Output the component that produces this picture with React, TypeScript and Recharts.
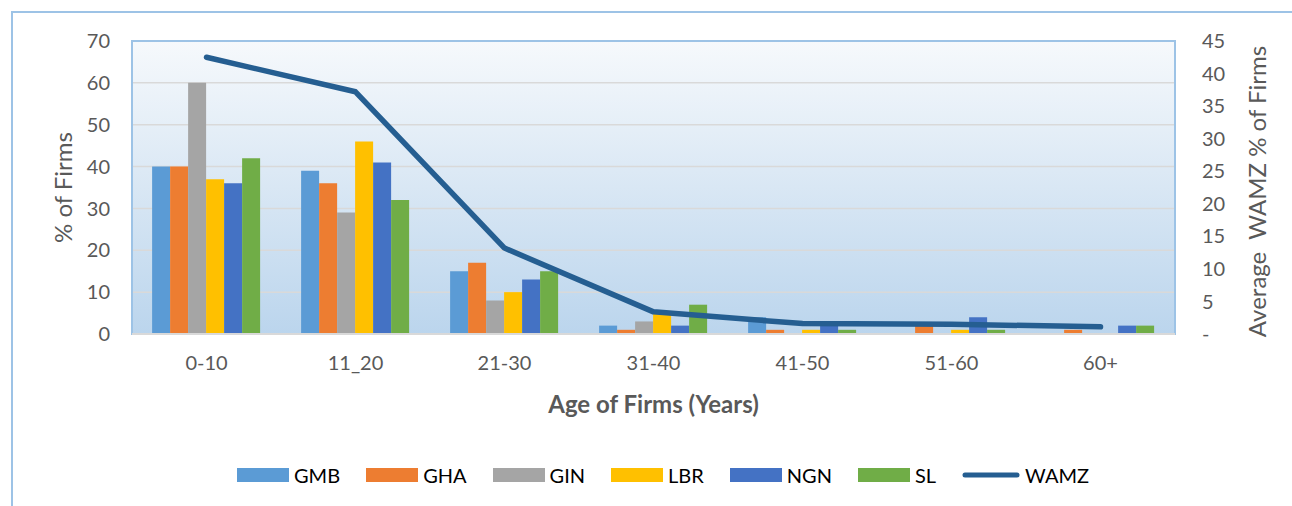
import { ComposedChart, Bar, Line, XAxis, YAxis, CartesianGrid, Legend, ReferenceArea } from 'recharts';

const ageGroups = ['0-10', '11_20', '21-30', '31-40', '41-50', '51-60', '60+'];
const gmb = [40, 39, 15, 2, 4, 0, 0];
const gha = [40, 36, 17, 1, 1, 2, 1];
const gin = [60, 29, 8, 3, 0, 0, 0];
const lbr = [37, 46, 10, 5, 1, 1, 0];
const ngn = [36, 41, 13, 2, 3, 4, 2];
const sl = [42, 32, 15, 7, 1, 1, 2];
const wamz = [42.5, 37.2, 13.2, 3.4, 1.6, 1.5, 1.1];

const seriesOrder = ['GMB', 'GHA', 'GIN', 'LBR', 'NGN', 'SL', 'WAMZ'];
const leftTicks = [0, 10, 20, 30, 40, 50, 60, 70];
const rightTicks = [0, 5, 10, 15, 20, 25, 30, 35, 40, 45];

const data = ageGroups.map((age, i) => ({
  age,
  GMB: gmb[i],
  GHA: gha[i],
  GIN: gin[i],
  LBR: lbr[i],
  NGN: ngn[i],
  SL: sl[i],
  WAMZ: wamz[i],
}));

const FONT = 'Lato, "Open Sans", sans-serif';
const tickStyle = { fill: '#595959', fontSize: 20, fontFamily: FONT };

const renderLegend = (props: any) => {
  const payload = [...(props.payload || [])].sort(
    (a: any, b: any) => seriesOrder.indexOf(a.value) - seriesOrder.indexOf(b.value)
  );
  return (
    <div style={{ display: 'flex', alignItems: 'center', paddingLeft: 237, fontFamily: FONT, fontSize: 20, color: '#000' }}>
      {payload.map((entry: any) => (
        <div key={entry.value} style={{ display: 'flex', alignItems: 'center', marginRight: 26 }}>
          {entry.type === 'line' ? (
            <svg width={58} height={14}>
              <line x1={3} y1={7} x2={55} y2={7} stroke={entry.color} strokeWidth={5} strokeLinecap="round" />
            </svg>
          ) : (
            <div style={{ width: 52, height: 14, background: entry.color }} />
          )}
          <span style={{ marginLeft: 5 }}>{entry.value}</span>
        </div>
      ))}
    </div>
  );
};

export default function App() {
  return (
    <div style={{ position: 'absolute', left: 0, top: 0, width: 1292, height: 506, overflow: 'hidden', background: '#fff' }}>
      <div
        style={{
          position: 'absolute',
          left: 11,
          top: 11,
          width: 1400,
          height: 600,
          borderLeft: '2px solid #9dc3e6',
          borderTop: '2px solid #9dc3e6',
        }}
      />
      <div style={{ position: 'absolute', left: 0, top: 0 }}>
        <ComposedChart
          width={1292}
          height={506}
          data={data}
          margin={{ top: 41, right: 0, bottom: 93, left: 0 }}
          barCategoryGap="13.5%"
          barGap={0}
          style={{ fontFamily: FONT }}
        >
          <defs>
            <linearGradient id="plotBg" x1="0" y1="0" x2="0" y2="1">
              <stop offset="0%" stopColor="#f6f9fc" />
              <stop offset="50%" stopColor="#d9e7f4" />
              <stop offset="100%" stopColor="#bbd5ed" />
            </linearGradient>
          </defs>
          <CartesianGrid yAxisId="left" vertical={false} stroke="#d9d9d9" strokeWidth={1.5} fill="url(#plotBg)" />
          <XAxis
            dataKey="age"
            height={79}
            tick={tickStyle}
            tickLine={false}
            tickSize={6}
            tickMargin={16}
            axisLine={{ stroke: '#d9d9d9', strokeWidth: 2 }}
            label={{ value: 'Age of Firms (Years)', position: 'insideBottom', offset: 0, fill: '#595959', fontSize: 24, fontWeight: 700, fontFamily: FONT }}
          />
          <YAxis
            yAxisId="left"
            width={132}
            domain={[0, 70]}
            ticks={leftTicks}
            tick={tickStyle}
            tickLine={false}
            axisLine={false}
            tickSize={6}
            tickMargin={16}
            label={{ value: '% of Firms', angle: -90, position: 'center', dx: -3, fill: '#595959', fontSize: 24, fontFamily: FONT }}
          />
          <YAxis
            yAxisId="right"
            orientation="right"
            width={117}
            domain={[0, 45]}
            ticks={rightTicks}
            tick={tickStyle}
            tickFormatter={(v: number) => (v === 0 ? '-' : String(v))}
            tickLine={false}
            axisLine={false}
            tickSize={6}
            tickMargin={21}
            label={{ value: 'Average\u00a0\u00a0WAMZ % of Firms', angle: -90, position: 'center', dx: 24, dy: 4, fill: '#595959', fontSize: 24, fontFamily: FONT }}
          />
          <Bar yAxisId="left" dataKey="GMB" fill="#5b9bd5" isAnimationActive={false} />
          <Bar yAxisId="left" dataKey="GHA" fill="#ed7d31" isAnimationActive={false} />
          <Bar yAxisId="left" dataKey="GIN" fill="#a5a5a5" isAnimationActive={false} />
          <Bar yAxisId="left" dataKey="LBR" fill="#ffc000" isAnimationActive={false} />
          <Bar yAxisId="left" dataKey="NGN" fill="#4472c4" isAnimationActive={false} />
          <Bar yAxisId="left" dataKey="SL" fill="#70ad47" isAnimationActive={false} />
          <Line
            yAxisId="right"
            type="linear"
            dataKey="WAMZ"
            stroke="#255e91"
            strokeWidth={5.5}
            strokeLinecap="round"
            strokeLinejoin="round"
            dot={false}
            activeDot={false}
            isAnimationActive={false}
          />
          <ReferenceArea yAxisId="left" y1={0} y2={70} fill="none" stroke="#9dc3e6" strokeWidth={2} ifOverflow="visible" />
          <Legend
            layout="horizontal"
            verticalAlign="middle"
            align="center"
            content={renderLegend}
            wrapperStyle={{ top: 463, left: 0, width: 1292 }}
          />
        </ComposedChart>
      </div>
    </div>
  );
}
